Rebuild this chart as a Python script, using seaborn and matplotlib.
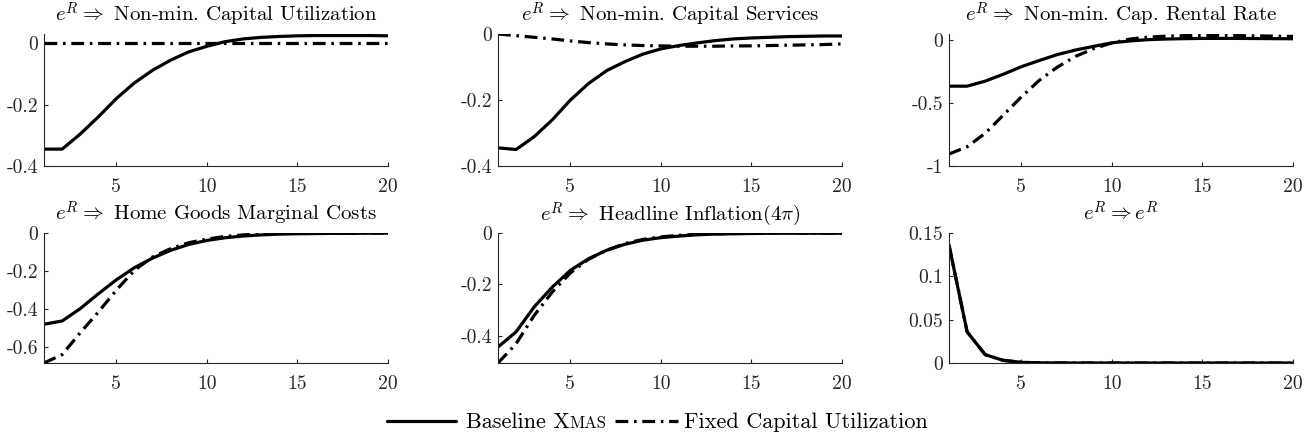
import numpy as np
import pandas as pd
import seaborn as sns
import matplotlib
matplotlib.use("Agg")
import matplotlib.pyplot as plt
from matplotlib.lines import Line2D
from matplotlib.offsetbox import HPacker, TextArea, DrawingArea, AnchoredOffsetbox

# ---- impulse responses to a monetary policy shock e^R (quarters 1..20) ----
periods = list(range(1, 21))

cap_util_base = [-0.345, -0.345, -0.296, -0.240, -0.180, -0.129, -0.088, -0.055, -0.028, -0.010,
                 0.005, 0.014, 0.019, 0.022, 0.024, 0.025, 0.025, 0.025, 0.025, 0.024]
cap_util_fixed = [0.0] * 20

cap_serv_base = [-0.345, -0.350, -0.311, -0.260, -0.200, -0.150, -0.111, -0.084, -0.061, -0.045,
                 -0.035, -0.027, -0.020, -0.015, -0.012, -0.010, -0.008, -0.007, -0.006, -0.006]
cap_serv_fixed = [0.0, -0.005, -0.010, -0.015, -0.021, -0.026, -0.030, -0.033, -0.035, -0.036,
                  -0.037, -0.037, -0.037, -0.036, -0.036, -0.035, -0.034, -0.033, -0.032, -0.030]

rent_base = [-0.365, -0.365, -0.325, -0.270, -0.210, -0.160, -0.113, -0.077, -0.048, -0.020,
             -0.005, 0.005, 0.010, 0.013, 0.015, 0.015, 0.015, 0.014, 0.013, 0.012]
rent_fixed = [-0.905, -0.847, -0.740, -0.595, -0.450, -0.317, -0.212, -0.127, -0.066, -0.021,
              0.010, 0.025, 0.033, 0.037, 0.038, 0.038, 0.037, 0.035, 0.033, 0.031]

mc_base = [-0.480, -0.463, -0.398, -0.320, -0.246, -0.182, -0.132, -0.091, -0.060, -0.039,
           -0.025, -0.016, -0.010, -0.006, -0.004, -0.003, -0.002, -0.002, -0.001, -0.001]
mc_fixed = [-0.684, -0.640, -0.525, -0.416, -0.300, -0.196, -0.126, -0.082, -0.051, -0.032,
            -0.018, -0.010, -0.005, -0.002, -0.001, 0.000, 0.000, 0.000, 0.000, 0.000]

infl_base = [-0.443, -0.384, -0.287, -0.210, -0.145, -0.100, -0.067, -0.044, -0.028, -0.018,
             -0.012, -0.007, -0.004, -0.003, -0.002, -0.001, -0.001, -0.001, -0.001, -0.001]
infl_fixed = [-0.505, -0.430, -0.320, -0.229, -0.155, -0.102, -0.067, -0.041, -0.025, -0.015,
              -0.009, -0.005, -0.003, -0.002, -0.001, 0.000, 0.000, 0.000, 0.000, 0.000]

shock_base = [0.136, 0.036, 0.0096, 0.003, 0.0008, 0.0002, 0.00006, 0.0, 0.0, 0.0,
              0.0, 0.0, 0.0, 0.0, 0.0, 0.0, 0.0, 0.0, 0.0, 0.0]
shock_fixed = [0.136, 0.036, 0.0096, 0.003, 0.0008, 0.0002, 0.00006, 0.0, 0.0, 0.0,
               0.0, 0.0, 0.0, 0.0, 0.0, 0.0, 0.0, 0.0, 0.0, 0.0]

titles = [
    r"$e^R \Rightarrow$ Non-min. Capital Utilization",
    r"$e^R \Rightarrow$ Non-min. Capital Services",
    r"$e^R \Rightarrow$ Non-min. Cap. Rental Rate",
    r"$e^R \Rightarrow$ Home Goods Marginal Costs",
    r"$e^R \Rightarrow$ Headline Inflation$(4\pi)$",
    r"$e^R \Rightarrow e^R$",
]
baseline_series = [cap_util_base, cap_serv_base, rent_base, mc_base, infl_base, shock_base]
fixed_series = [cap_util_fixed, cap_serv_fixed, rent_fixed, mc_fixed, infl_fixed, shock_fixed]
y_limits = [(-0.4, 0.03), (-0.4, 0.0), (-1.0, 0.05), (-0.684, 0.0), (-0.505, 0.0), (0.0, 0.15)]
y_ticks = [[-0.4, -0.2, 0], [-0.4, -0.2, 0], [-1, -0.5, 0],
           [-0.6, -0.4, -0.2, 0], [-0.4, -0.2, 0], [0, 0.05, 0.1, 0.15]]
x_ticks = [5, 10, 15, 20]

legend_base = "Baseline X"
legend_base_sc = "MAS"
legend_fixed = "Fixed Capital Utilization"

# ---- style ----
sns.set_style("ticks")
plt.rcParams["font.family"] = ["cmr10", "DejaVu Serif"]
plt.rcParams["mathtext.fontset"] = "cm"
plt.rcParams["axes.unicode_minus"] = False

axis_grey = "#262626"
lw = 2.3
dashdot = (0, (4.0, 1.8, 0.8, 1.8))

fig = plt.figure(figsize=(13.15, 4.41), dpi=100)

col_left = [44 / 1315, 498 / 1315, 949 / 1315]
col_w = 344 / 1315
row_bottom = [1 - 166 / 441, 1 - 363 / 441]
row_h = [132 / 441, 130 / 441]

for i in range(6):
    r, c = divmod(i, 3)
    ax = fig.add_axes([col_left[c], row_bottom[r], col_w, row_h[r]])
    df = pd.DataFrame({"t": periods, "base": baseline_series[i], "fixed": fixed_series[i]})
    sns.lineplot(data=df, x="t", y="base", ax=ax, color="k", lw=lw,
                 linestyle="-", legend=False)
    sns.lineplot(data=df, x="t", y="fixed", ax=ax, color="k", lw=lw,
                 linestyle=dashdot, legend=False)
    ax.set_xlim(1, 20)
    ax.set_ylim(*y_limits[i])
    ax.set_xticks(x_ticks)
    ax.set_xticklabels([f"{v:g}" for v in x_ticks])
    ax.set_yticks(y_ticks[i])
    ax.set_yticklabels([f"{v:g}" for v in y_ticks[i]])
    ax.set_xlabel("")
    ax.set_ylabel("")
    for side in ("top", "right"):
        ax.spines[side].set_visible(False)
    for side in ("left", "bottom"):
        ax.spines[side].set_color(axis_grey)
        ax.spines[side].set_linewidth(0.8)
    ax.tick_params(axis="both", direction="in", length=3, width=0.8,
                   color=axis_grey, labelcolor=axis_grey, labelsize=14.2)
    ax.tick_params(axis="x", pad=8.5)
    ax.tick_params(axis="y", pad=4)
    ax.set_title(titles[i], fontsize=15, pad=8.5, color="k")
    ax.patch.set_alpha(0)


# ---- legend row: line handles with labels (small caps for the model name) ----
def handle(style, width=50):
    da = DrawingArea(width=width, height=10, xdescent=0, ydescent=0)
    da.add_artist(Line2D([0, width], [5, 5], color="k", lw=lw, linestyle=style))
    return da


txt = dict(size=16, color="k")
txt_sc = dict(size=12, color="k")
base_label = HPacker(children=[TextArea(legend_base, textprops=txt),
                               TextArea(legend_base_sc, textprops=txt_sc)],
                     align="baseline", pad=0, sep=0)
entry1 = HPacker(children=[handle("-"), base_label], align="baseline", pad=0, sep=7)
entry2 = HPacker(children=[handle(dashdot, 45), TextArea(legend_fixed, textprops=txt)],
                 align="baseline", pad=0, sep=5)
legend_row = HPacker(children=[entry1, entry2], align="baseline", pad=0, sep=6)
anchored = AnchoredOffsetbox(loc="center", child=legend_row, pad=0, borderpad=0,
                             frameon=False, bbox_to_anchor=(0.5, 1 - 422 / 441),
                             bbox_transform=fig.transFigure)
fig.add_artist(anchored)

fig.savefig("out.png", dpi=100, facecolor="white")
